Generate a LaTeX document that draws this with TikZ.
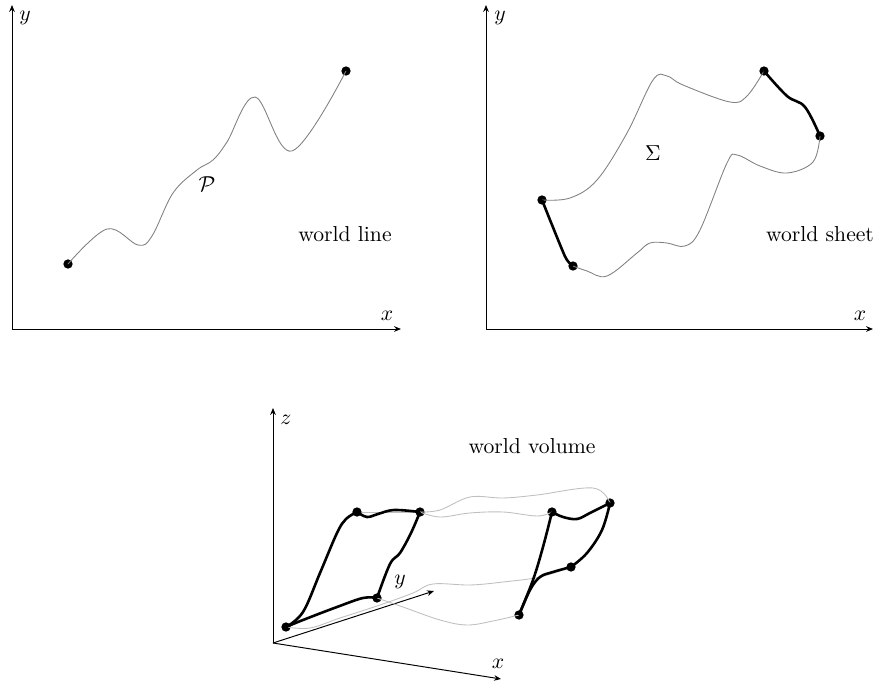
\documentclass[tikz,border=0pt]{standalone}
\usepackage{amsmath}
\usetikzlibrary{arrows.meta, positioning, calc}

\begin{document}
\begin{tikzpicture}[
    x=0.462pt, y=-0.462pt,
    axis/.style={-{Stealth[length=3.2pt, width=2.6pt]}, line width=0.45pt},
    dot/.style={circle, fill=black, inner sep=0pt, minimum size=4.3pt},
    worldcurve/.style={gray, line width=0.4pt},
    ghost/.style={gray!50, line width=0.4pt},
    brane/.style={very thick, black},
    lbl/.style={inner sep=1pt}
]
\useasboundingbox (0,0) rectangle (877,684);

% world line
\coordinate (o1) at (12,329);
\coordinate (y1) at (12,5);
\coordinate (x1) at (401,329);
\draw[axis] (o1) -- (y1);
\draw[axis] (o1) -- (x1);
\node[lbl] (ylab1) at (25,18) {$y$};
\node[lbl] (xlab1) at (387,316) {$x$};
\node[dot] (ls) at (68,264) {};
\node[dot] (le) at (346,71) {};
\draw[worldcurve] plot[smooth, tension=0.6] coordinates {(ls) (107,229) (138,245) (152,236) (173,193) (197,170) (213,160) (227,142) (255,97) (292,151) (346,71)};
\node[lbl] (path) at (207,184) {$\mathcal{P}$};
\node[lbl] (wline) at (345,234) {world line};

% world sheet
\coordinate (o2) at (486,329);
\coordinate (y2) at (486,5);
\coordinate (x2) at (873,329);
\draw[axis] (o2) -- (y2);
\draw[axis] (o2) -- (x2);
\node[lbl] (ylab2) at (500,18) {$y$};
\node[lbl] (xlab2) at (860,316) {$x$};
\node[dot] (sa) at (542,200) {};
\node[dot] (sb) at (573,266) {};
\node[dot] (sc) at (764,71) {};
\node[dot] (sd) at (820,136) {};
\draw[worldcurve] plot[smooth, tension=0.6] coordinates {(sa) (570,198) (597,180) (627,133) (653,80) (667,76) (683,85) (730,102) (747,96) (sc)};
\draw[worldcurve] plot[smooth, tension=0.6] coordinates {(sd) (813,162) (787,173) (760,166) (737,155) (727,163) (700,230) (685,246) (667,243) (650,243) (637,253) (607,276) (587,271) (sb)};
\draw[brane] plot[smooth, tension=0.6] coordinates {(sc) (787,96) (805,107) (sd)};
\draw[brane] plot[smooth, tension=0.6] coordinates {(sa) (561,247) (567,260) (sb)};
\node[lbl] (sigma) at (653,153) {$\Sigma$};
\node[lbl] (wsheet) at (820,234) {world sheet};

% world volume
\coordinate (o3) at (273,643);
\coordinate (z3) at (273,408);
\coordinate (x3) at (501,679);
\coordinate (y3) at (434,591);
\draw[axis] (o3) -- (z3);
\draw[axis] (o3) -- (x3);
\draw[axis] (o3) -- (y3);
\node[lbl] (zlab3) at (286,420) {$z$};
\node[lbl] (xlab3) at (498,664) {$x$};
\node[lbl] (ylab3) at (400,582) {$y$};
\node[lbl] (wvol) at (532,446) {world volume};

\node[dot] (p1) at (286,627) {};
\node[dot] (p2) at (357,512) {};
\node[dot] (p3) at (420,512) {};
\node[dot] (p4) at (377,598) {};
\node[dot] (q1) at (519,615) {};
\node[dot] (q2) at (552,512) {};
\node[dot] (q3) at (610,503) {};
\node[dot] (q4) at (571,567) {};

% grey sheets
\draw[ghost] (p2) -- (p3);
\draw[ghost] plot[smooth, tension=0.6] coordinates {(p3) (440,517) (470,513) (503,512) (537,516) (q2)};
\draw[ghost] plot[smooth, tension=0.6] coordinates {(p3) (440,510) (470,497) (503,498) (537,495) (593,488) (q3)};
\draw[ghost] plot[smooth, tension=0.6] coordinates {(p4) (403,607) (440,620) (467,625) (493,621) (q1)};
\draw[ghost] plot[smooth, tension=0.6] coordinates {(p1) (310,628) (340,618) (380,605) (413,593) (433,584) (470,585) (503,582) (540,577) (q4)};

% thick edges
\draw[brane] plot[smooth, tension=0.6] coordinates {(p1) (303,612) (320,573) (337,533) (346,519) (p2)};
\draw[brane] plot[smooth, tension=0.6] coordinates {(p2) (367,517) (378,514) (394,510) (p3)};
\draw[brane] plot[smooth, tension=0.6] coordinates {(p3) (411,533) (400,553) (390,564) (p4)};
\draw[brane] plot[smooth, tension=0.6] coordinates {(p1) (303,620) (337,607) (363,598) (p4)};
\draw[brane] plot[smooth, tension=0.6] coordinates {(q1) (533,580) (543,547) (q2)};
\draw[brane] plot[smooth, tension=0.6] coordinates {(q2) (563,517) (577,519) (590,513) (q3)};
\draw[brane] plot[smooth, tension=0.6] coordinates {(q3) (602,530) (587,553) (q4)};
\draw[brane] plot[smooth, tension=0.6] coordinates {(q4) (553,572) (540,577) (530,590) (q1)};

\end{tikzpicture}
\end{document}
